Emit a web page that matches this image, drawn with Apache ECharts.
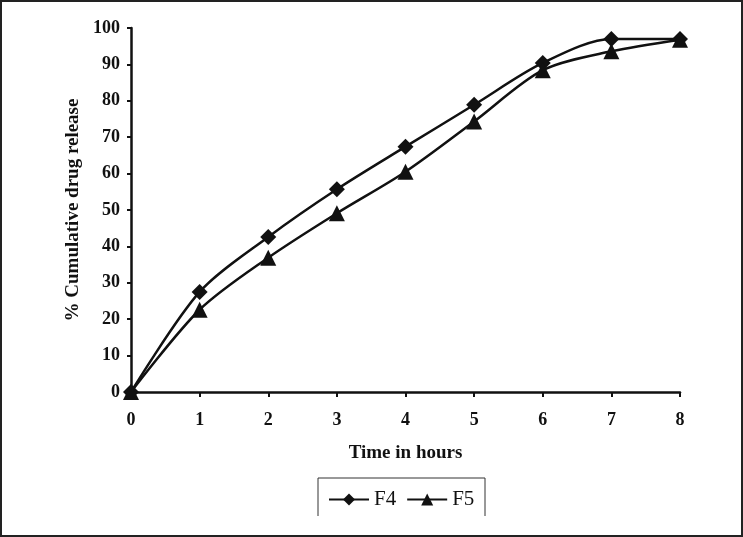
<!DOCTYPE html>
<html>
<head>
<meta charset="utf-8">
<script src="https://cdn.jsdelivr.net/npm/echarts@6/dist/echarts.min.js"></script>
<style>
html,body{margin:0;padding:0;background:#fff;}
#main{width:743px;height:537px;}
</style>
</head>
<body>
<div id="main"></div>
<script>
var hours = [0, 1, 2, 3, 4, 5, 6, 7, 8];
var f4 = [0, 27.5, 42.6, 55.7, 67.4, 78.9, 90.4, 97.0, 97.0];
var f5 = [0, 22.6, 36.9, 49.1, 60.5, 74.3, 88.4, 93.6, 96.8];
var seriesNames = ['F4', 'F5'];
var yTicks = [0, 10, 20, 30, 40, 50, 60, 70, 80, 90, 100];

var serif = '"Liberation Serif", "Times New Roman", serif';
function pairs(xs, ys) { return xs.map(function (x, i) { return [x, ys[i]]; }); }

var chart = echarts.init(document.getElementById('main'), null, {renderer: 'canvas'});
chart.setOption({
  animation: false,
  backgroundColor: '#fff',
  grid: {left: 131, right: 63, top: 28, bottom: 145, containLabel: false},
  xAxis: {
    type: 'value', min: 0, max: 8, interval: 1,
    name: 'Time in hours', nameLocation: 'middle', nameGap: 52,
    nameTextStyle: {fontFamily: serif, fontWeight: 'bold', fontSize: 19, color: '#111'},
    axisLine: {lineStyle: {color: '#111', width: 2.5}},
    axisTick: {show: true, length: 5, lineStyle: {color: '#111', width: 2}},
    axisLabel: {fontFamily: serif, fontWeight: 'bold', fontSize: 18, color: '#111', margin: 19},
    splitLine: {show: false}
  },
  yAxis: {
    type: 'value', min: 0, max: 100, interval: 10,
    name: '% Cumulative drug release', nameLocation: 'middle', nameGap: 44,
    nameTextStyle: {fontFamily: serif, fontWeight: 'bold', fontSize: 19, color: '#111'},
    axisLine: {show: true, lineStyle: {color: '#111', width: 2.5}},
    axisTick: {show: true, length: 4, lineStyle: {color: '#111', width: 2}},
    axisLabel: {fontFamily: serif, fontWeight: 'bold', fontSize: 18, color: '#111', margin: 11,
      formatter: function (v) { return yTicks.indexOf(v) >= 0 ? String(v) : ''; }},
    splitLine: {show: false}
  },
  legend: {
    left: 323, top: 484,
    itemWidth: 40, itemHeight: 15, itemGap: 10,
    textStyle: {fontFamily: serif, fontSize: 21, color: '#111'},
    data: seriesNames
  },
  series: [
    {
      name: seriesNames[0], type: 'line', data: pairs(hours, f4),
      smooth: 0.3, symbol: 'diamond', symbolSize: 16,
      lineStyle: {color: '#111', width: 2.5},
      itemStyle: {color: '#111'}
    },
    {
      name: seriesNames[1], type: 'line', data: pairs(hours, f5),
      smooth: 0.3, symbol: 'triangle', symbolSize: 16,
      lineStyle: {color: '#111', width: 2.5},
      itemStyle: {color: '#111'}
    }
  ],
  graphic: [
    {type: 'rect', shape: {x: 1, y: 1, width: 741, height: 535},
      style: {fill: 'none', stroke: '#222', lineWidth: 2}, silent: true},
    {type: 'polyline', shape: {points: [[318, 516], [318, 478], [485, 478], [485, 516]]},
      style: {fill: 'none', stroke: '#333', lineWidth: 1}, silent: true}
  ]
});
</script>
</body>
</html>
